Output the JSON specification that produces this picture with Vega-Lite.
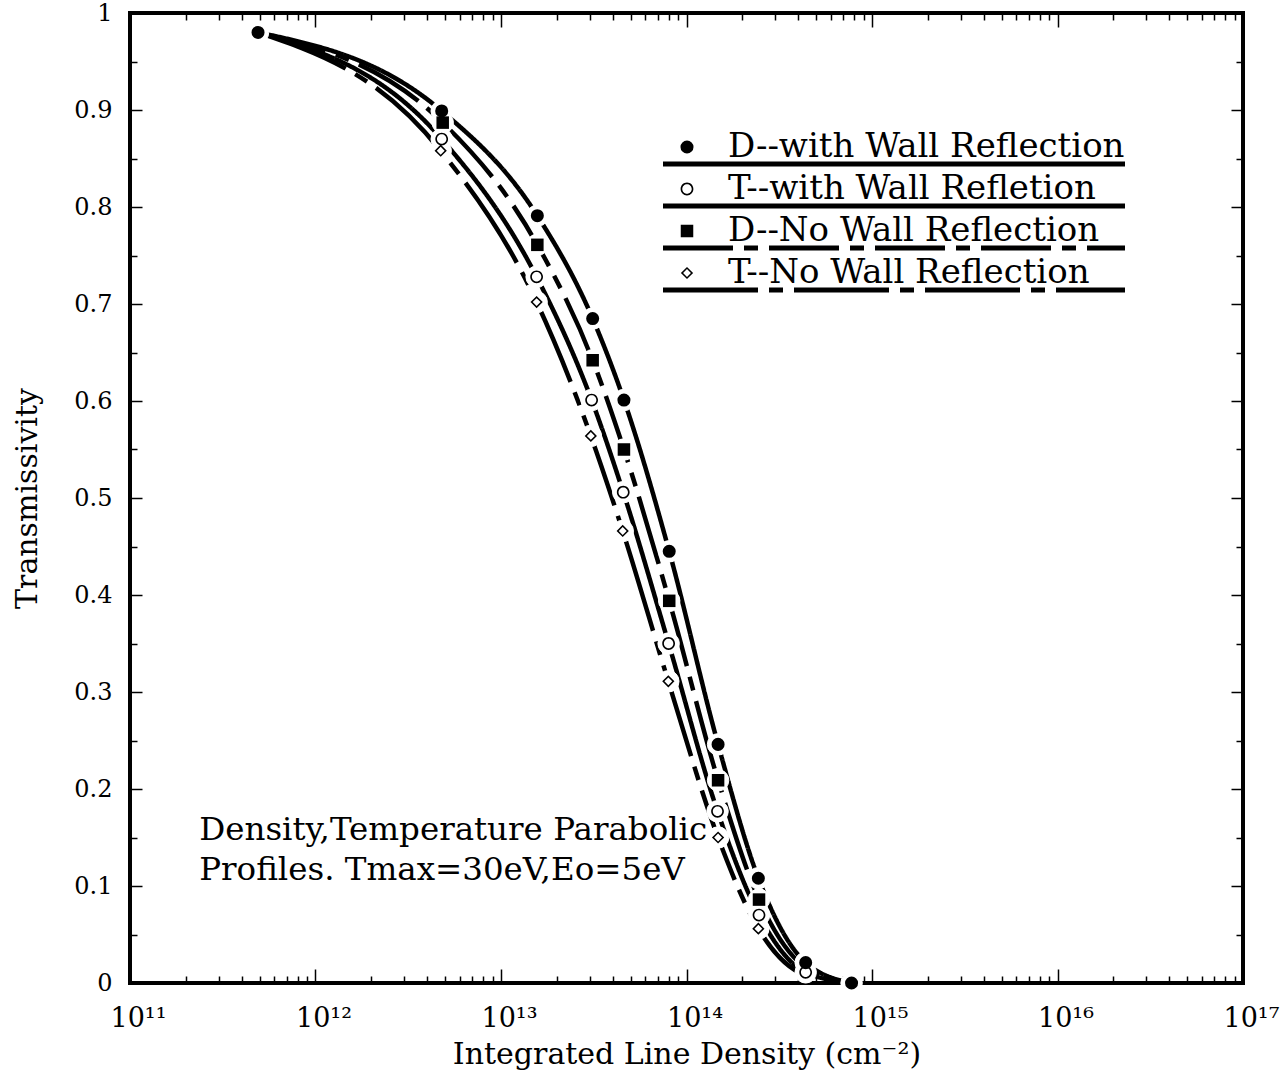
{
  "$schema": "https://vega.github.io/schema/vega-lite/v6.json",
  "width": 1113,
  "height": 970,
  "autosize": {"type": "none"},
  "padding": {"left": 130, "top": 13, "right": 43, "bottom": 97},
  "background": "white",
  "config": {
    "font": "DejaVu Serif",
    "view": {"stroke": "black", "strokeWidth": 4},
    "axis": {"grid": false, "domain": false, "tickColor": "black", "labelColor": "black", "titleColor": "black", "labelFont": "DejaVu Serif", "titleFont": "DejaVu Serif", "titleFontWeight": "normal"}
  },
  "datasets": {
    "curves": [
      {"series": "D--with Wall Reflection", "density": 4.9e11, "trans": 0.98},
      {"series": "D--with Wall Reflection", "density": 4.79e12, "trans": 0.899},
      {"series": "D--with Wall Reflection", "density": 1.57e13, "trans": 0.791},
      {"series": "D--with Wall Reflection", "density": 3.12e13, "trans": 0.685},
      {"series": "D--with Wall Reflection", "density": 4.6e13, "trans": 0.601},
      {"series": "D--with Wall Reflection", "density": 8.07e13, "trans": 0.445},
      {"series": "D--with Wall Reflection", "density": 1.48e14, "trans": 0.246},
      {"series": "D--with Wall Reflection", "density": 2.44e14, "trans": 0.108},
      {"series": "D--with Wall Reflection", "density": 4.39e14, "trans": 0.021},
      {"series": "D--with Wall Reflection", "density": 7.76e14, "trans": 0.0},
      {"series": "T--with Wall Refletion", "density": 4.9e11, "trans": 0.98},
      {"series": "T--with Wall Refletion", "density": 4.79e12, "trans": 0.870},
      {"series": "T--with Wall Refletion", "density": 1.556e13, "trans": 0.728},
      {"series": "T--with Wall Refletion", "density": 3.08e13, "trans": 0.601},
      {"series": "T--with Wall Refletion", "density": 4.56e13, "trans": 0.506},
      {"series": "T--with Wall Refletion", "density": 8.01e13, "trans": 0.350},
      {"series": "T--with Wall Refletion", "density": 1.47e14, "trans": 0.177},
      {"series": "T--with Wall Refletion", "density": 2.46e14, "trans": 0.070},
      {"series": "T--with Wall Refletion", "density": 4.39e14, "trans": 0.011},
      {"series": "T--with Wall Refletion", "density": 7.76e14, "trans": 0.0},
      {"series": "D--No Wall Reflection", "density": 4.9e11, "trans": 0.98},
      {"series": "D--No Wall Reflection", "density": 4.85e12, "trans": 0.887},
      {"series": "D--No Wall Reflection", "density": 1.57e13, "trans": 0.761},
      {"series": "D--No Wall Reflection", "density": 3.12e13, "trans": 0.642},
      {"series": "D--No Wall Reflection", "density": 4.6e13, "trans": 0.550},
      {"series": "D--No Wall Reflection", "density": 8.07e13, "trans": 0.394},
      {"series": "D--No Wall Reflection", "density": 1.48e14, "trans": 0.209},
      {"series": "D--No Wall Reflection", "density": 2.46e14, "trans": 0.086},
      {"series": "D--No Wall Reflection", "density": 4.39e14, "trans": 0.016},
      {"series": "D--No Wall Reflection", "density": 7.76e14, "trans": 0.0},
      {"series": "T--No Wall Reflection", "density": 4.9e11, "trans": 0.98},
      {"series": "T--No Wall Reflection", "density": 4.73e12, "trans": 0.858},
      {"series": "T--No Wall Reflection", "density": 1.556e13, "trans": 0.702},
      {"series": "T--No Wall Reflection", "density": 3.05e13, "trans": 0.564},
      {"series": "T--No Wall Reflection", "density": 4.53e13, "trans": 0.466},
      {"series": "T--No Wall Reflection", "density": 7.98e13, "trans": 0.311},
      {"series": "T--No Wall Reflection", "density": 1.48e14, "trans": 0.150},
      {"series": "T--No Wall Reflection", "density": 2.44e14, "trans": 0.056},
      {"series": "T--No Wall Reflection", "density": 4.39e14, "trans": 0.008},
      {"series": "T--No Wall Reflection", "density": 7.76e14, "trans": 0.0}
    ]
  },
  "layer": [
    {
      "data": {"name": "curves"},
      "mark": {"type": "line", "interpolate": "monotone", "strokeWidth": 4.5, "color": "black", "strokeCap": "butt"},
      "encoding": {
        "x": {
          "field": "density", "type": "quantitative",
          "scale": {"type": "log", "domain": [1e11, 1e17]},
          "axis": {
            "orient": "bottom",
            "values": [1e11,2e11,3e11,4e11,5e11,6e11,7e11,8e11,9e11,1e12,2e12,3e12,4e12,5e12,6e12,7e12,8e12,9e12,1e13,2e13,3e13,4e13,5e13,6e13,7e13,8e13,9e13,1e14,2e14,3e14,4e14,5e14,6e14,7e14,8e14,9e14,1e15,2e15,3e15,4e15,5e15,6e15,7e15,8e15,9e15,1e16,2e16,3e16,4e16,5e16,6e16,7e16,8e16,9e16,1e17],
            "tickSize": -14, "tickWidth": 1.5,
            "tickDash": {"condition": {"test": "abs(log(datum.value)/LN10 - round(log(datum.value)/LN10)) < 0.001", "value": [30, 0]}, "value": [7, 40]},
            "labelExpr": "abs(log(datum.value)/LN10 - round(log(datum.value)/LN10)) < 0.001 ? '10' + ['¹¹','¹²','¹³','¹⁴','¹⁵','¹⁶','¹⁷'][round(log(datum.value)/LN10) - 11] : ''",
            "labelFontSize": 27, "labelPadding": 36, "labelOffset": 8, "labelFlush": false, "labelOverlap": false, "labelBound": false,
            "title": "Integrated Line Density (cm⁻²)", "titleFontSize": 30, "titlePadding": 8
          }
        },
        "y": {
          "field": "trans", "type": "quantitative",
          "scale": {"domain": [0, 1]},
          "axis": {
            "orient": "left",
            "values": [0,0.05,0.1,0.15,0.2,0.25,0.3,0.35,0.4,0.45,0.5,0.55,0.6,0.65,0.7,0.75,0.8,0.85,0.9,0.95,1],
            "tickSize": -12, "tickWidth": 1.5,
            "tickDash": {"condition": {"test": "abs(datum.value*10 - round(datum.value*10)) < 0.001", "value": [30, 0]}, "value": [7, 40]},
            "labelExpr": "abs(datum.value*10 - round(datum.value*10)) < 0.001 ? format(datum.value, '.1~f') : ''",
            "labelFontSize": 24, "labelPadding": 30, "labelOverlap": false, "labelFlush": false, "labelBound": false,
            "title": "Transmissivity", "titleFontSize": 30, "titlePadding": 31
          }
        },
        "strokeDash": {
          "field": "series", "type": "nominal",
          "sort": ["D--with Wall Reflection", "T--with Wall Refletion", "D--No Wall Reflection", "T--No Wall Reflection"],
          "scale": {"range": [[1, 0], [1, 0], [70, 11, 14, 11], [95, 11, 14, 11]]},
          "legend": {
            "title": null, "orient": "none", "legendX": 539, "legendY": 134,
            "labelExpr": "''", "labelFontSize": 34, "rowPadding": 8, "padding": 0,
            "symbolType": "M-4.6,0L87.8,0", "symbolSize": 100, "symbolStrokeWidth": 5, "symbolStrokeColor": "black",
            "encode": {"symbols": {"update": {"strokeDash": {"signal": "indexof(datum.value, 'No') >= 0 ? [100, 11, 16, 12] : [1, 0]"}}}}
          }
        }
      }
    },
    {
      "data": {"name": "curves"},
      "transform": [{"filter": "datum.series == 'D--with Wall Reflection' || (datum.density > 1e12 && datum.density < 7e14 && !(datum.density > 4e14 && indexof(datum.series, 'No') >= 0))"}],
      "mark": {"type": "point", "shape": "circle", "filled": true, "fill": "white", "stroke": "white", "strokeWidth": 1, "size": 460, "opacity": 1},
      "encoding": {
        "x": {
          "field": "density", "type": "quantitative",
          "axis": {
            "orient": "top",
            "values": [1e11,2e11,3e11,4e11,5e11,6e11,7e11,8e11,9e11,1e12,2e12,3e12,4e12,5e12,6e12,7e12,8e12,9e12,1e13,2e13,3e13,4e13,5e13,6e13,7e13,8e13,9e13,1e14,2e14,3e14,4e14,5e14,6e14,7e14,8e14,9e14,1e15,2e15,3e15,4e15,5e15,6e15,7e15,8e15,9e15,1e16,2e16,3e16,4e16,5e16,6e16,7e16,8e16,9e16,1e17],
            "tickSize": -14, "tickWidth": 1.5,
            "tickDash": {"condition": {"test": "abs(log(datum.value)/LN10 - round(log(datum.value)/LN10)) < 0.001", "value": [30, 0]}, "value": [7, 40]},
            "labels": false, "title": null
          }
        },
        "y": {
          "field": "trans", "type": "quantitative",
          "axis": {
            "orient": "right",
            "values": [0,0.05,0.1,0.15,0.2,0.25,0.3,0.35,0.4,0.45,0.5,0.55,0.6,0.65,0.7,0.75,0.8,0.85,0.9,0.95,1],
            "tickSize": -12, "tickWidth": 1.5,
            "tickDash": {"condition": {"test": "abs(datum.value*10 - round(datum.value*10)) < 0.001", "value": [30, 0]}, "value": [7, 40]},
            "labels": false, "title": null
          }
        }
      }
    },
    {
      "data": {"name": "curves"},
      "transform": [{"filter": "datum.series == 'D--with Wall Reflection' || (datum.density > 1e12 && datum.density < 7e14 && !(datum.density > 4e14 && indexof(datum.series, 'No') >= 0))"}],
      "mark": {"type": "point", "filled": true, "color": "black", "strokeWidth": 0, "opacity": 1},
      "encoding": {
        "x": {"field": "density", "type": "quantitative", "axis": null},
        "y": {"field": "trans", "type": "quantitative", "axis": null},
        "shape": {
          "field": "series", "type": "nominal",
          "scale": {"domain": ["D--with Wall Reflection", "T--with Wall Refletion", "D--No Wall Reflection", "T--No Wall Reflection"], "range": ["circle", "M1,0A1,1 0 1,1 -1,0A1,1 0 1,1 1,0ZM0.74,0A0.74,0.74 0 1,0 -0.74,0A0.74,0.74 0 1,0 0.74,0Z", "square", "M0,-1L1,0L0,1L-1,0ZM0,-0.64L-0.64,0L0,0.64L0.64,0Z"]},
          "legend": {"title": null, "orient": "none", "legendX": 540, "legendY": 117, "labelFontSize": 34, "labelFont": "DejaVu Serif", "labelColor": "black", "labelOffset": 24, "rowPadding": 8, "padding": 0, "symbolStrokeWidth": 0, "labelLimit": 0}
        },
        "size": {
          "field": "series", "type": "nominal",
          "scale": {"domain": ["D--with Wall Reflection", "T--with Wall Refletion", "D--No Wall Reflection", "T--No Wall Reflection"], "range": [170, 150, 180, 125]},
          "legend": {"title": null, "orient": "none", "legendX": 540, "legendY": 117, "labelFontSize": 34, "labelFont": "DejaVu Serif", "labelColor": "black", "labelOffset": 24, "rowPadding": 8, "padding": 0, "symbolStrokeWidth": 0, "labelLimit": 0}
        }
      }
    },
    {
      "data": {"values": [{}]},
      "mark": {"type": "text", "text": ["Density,Temperature Parabolic", "Profiles. Tmax=30eV,Eo=5eV"], "font": "DejaVu Serif", "fontSize": 32.5, "lineHeight": 40, "align": "left", "baseline": "alphabetic", "color": "black"},
      "encoding": {
        "x": {"datum": 2.36e11, "type": "quantitative", "axis": null},
        "y": {"datum": 0.1474, "type": "quantitative", "axis": null}
      }
    }
  ],
  "resolve": {"axis": {"x": "independent", "y": "independent"}}
}
